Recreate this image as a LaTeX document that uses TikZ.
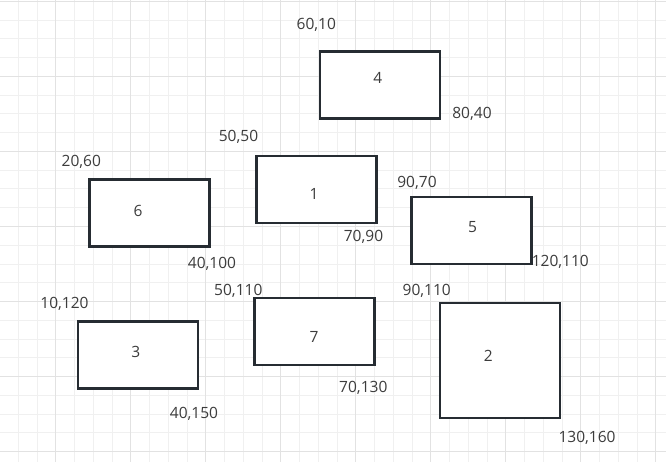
\documentclass[tikz,border=0pt]{standalone}
\usepackage{fontspec}
\setmainfont{Open Sans}
\usetikzlibrary{positioning}
\definecolor{ln}{RGB}{38,44,50}
\definecolor{tx}{RGB}{60,60,60}
\definecolor{gmin}{RGB}{240,240,240}
\definecolor{gmaj}{RGB}{226,226,226}
\tikzset{box/.style={draw=ln,line width=2.5pt,fill=white,inner sep=0pt,minimum width=120pt,minimum height=67pt},
 num/.style={text=tx,inner sep=0pt,font=\fontsize{15.5}{18}\selectfont},
 lab/.style={text=tx,inner sep=0pt,anchor=base,font=\fontsize{15.5}{18}\selectfont},
 gridmin/.style={draw=gmin,line width=1pt},gridmaj/.style={draw=gmaj,line width=1.2pt}}
\begin{document}
\begin{tikzpicture}[x=1pt,y=-1pt]
\useasboundingbox[fill=white] (0,0) rectangle (666,462);
% grid
\foreach \i in {0,...,36} {\draw[gridmin] ({-0.5+18.75*\i},0)--({-0.5+18.75*\i},462);}
\foreach \j in {0,...,25} {\draw[gridmin] (0,{1.5+18.75*\j})--(666,{1.5+18.75*\j});}
\foreach \i in {0,...,8} {\draw[gridmaj] ({55.75+75*\i},0)--({55.75+75*\i},462);}
\foreach \j in {0,...,6} {\draw[gridmaj] (0,{1.5+75*\j})--(666,{1.5+75*\j});}
% boxes
\node[box] (b4) at (380,85) {};
\node[box] (b1) at (316.3,189.7) {};
\node[box] (b6) at (149.3,212.8) {};
\node[box] (b5) at (471.3,230.5) {};
\node[box] (b3) at (138,355.2) {};
\node[box] (b7) at (314.5,331.7) {};
\node[box,minimum height=115pt] (b2) at (500,360.3) {};
% box numbers
\node[num] (n4) at (377.7,77.5) {4};
\node[num] (n1) at (314,194.2) {1};
\node[num] (n6) at (138,211.3) {6};
\node[num] (n5) at (472.5,227.5) {5};
\node[num] (n3) at (135.8,352.2) {3};
\node[num] (n7) at (314,336.7) {7};
\node[num] (n2) at (488.3,356) {2};
% corner labels
\node[lab] (c4a) at (316.3,30) {60,10};
\node[lab] (c4b) at (472,118.3) {80,40};
\node[lab] (c1a) at (238.5,141.7) {50,50};
\node[lab] (c1b) at (363.5,241.7) {70,90};
\node[lab] (c6a) at (81.3,166.7) {20,60};
\node[lab] (c6b) at (212,268.3) {40,100};
\node[lab] (c5a) at (417,187.3) {90,70};
\node[lab] (c5b) at (560.3,266.7) {120,110};
\node[lab] (c3a) at (64.5,308.3) {10,120};
\node[lab] (c3b) at (194,418) {40,150};
\node[lab] (c7a) at (238.3,295.7) {50,110};
\node[lab] (c7b) at (363.3,392.3) {70,130};
\node[lab] (c2a) at (426.7,295.7) {90,110};
\node[lab] (c2b) at (587,442.7) {130,160};
\end{tikzpicture}
\end{document}
